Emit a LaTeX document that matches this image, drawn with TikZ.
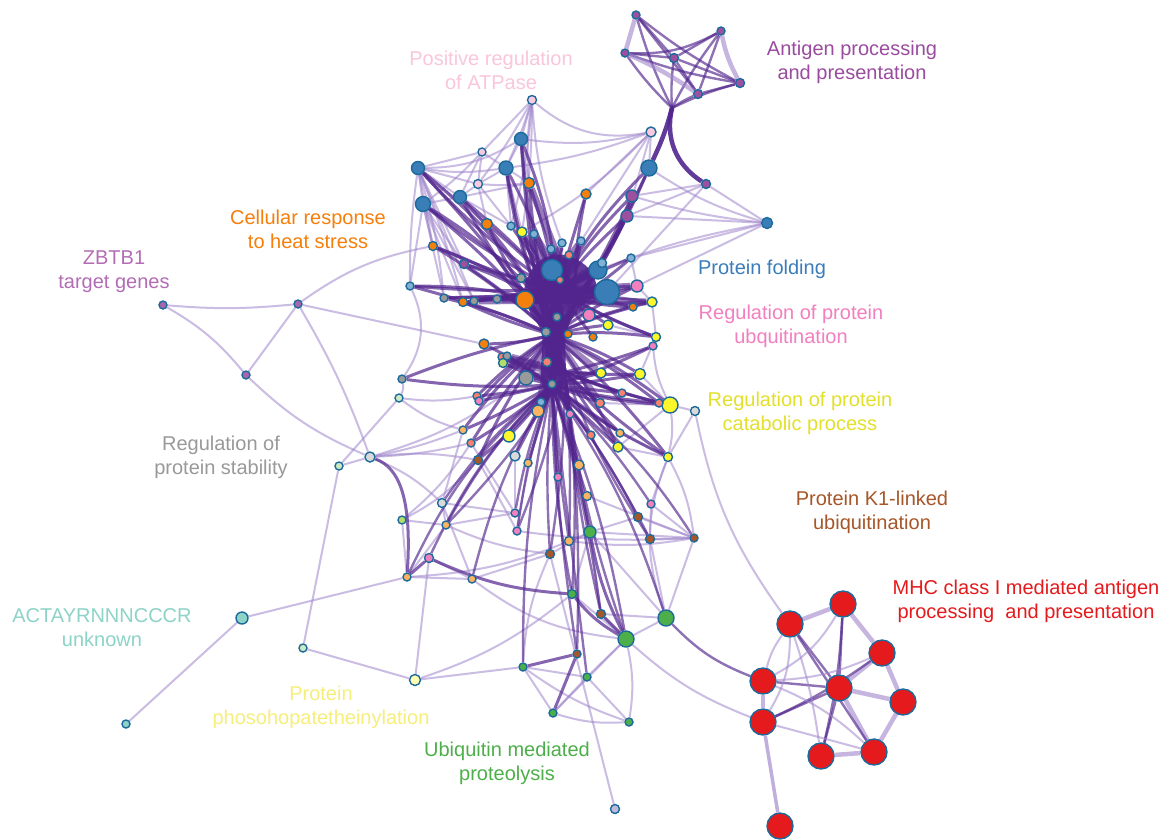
\documentclass[tikz,border=0pt]{standalone}
\usepackage{fontspec}
\setmainfont{Liberation Sans}
\pgfdeclarelayer{bgfill}
\pgfdeclarelayer{edges}
\pgfsetlayers{bgfill,edges,main}
\definecolor{cOut}{HTML}{1C6A9B}
\definecolor{cBlu}{HTML}{3A7EB7}
\definecolor{cOra}{HTML}{F57F0C}
\definecolor{cLpk}{HTML}{F9CADF}
\definecolor{cPur}{HTML}{9B519F}
\definecolor{cPnk}{HTML}{F280BE}
\definecolor{cYel}{HTML}{FBF72A}
\definecolor{cSal}{HTML}{F9806F}
\definecolor{cGry}{HTML}{9A9A9A}
\definecolor{cLbl}{HTML}{81B1D3}
\definecolor{cLgr}{HTML}{B3DE69}
\definecolor{cMnt}{HTML}{CCEBC5}
\definecolor{cLgy}{HTML}{D9D9D9}
\definecolor{cLor}{HTML}{FDB462}
\definecolor{cBrn}{HTML}{A65628}
\definecolor{cGrn}{HTML}{4DAF4A}
\definecolor{cRed}{HTML}{E41A1C}
\definecolor{cTea}{HTML}{8DD3C7}
\definecolor{cLye}{HTML}{FFFFB3}
\definecolor{cLav}{HTML}{BEBADA}
\definecolor{cZbt}{HTML}{A865AE}
\definecolor{cDk}{HTML}{52258E}
\definecolor{cLt}{HTML}{9F85CB}
% label colours
\definecolor{tAtp}{HTML}{F9C6DB}
\definecolor{tAnt}{HTML}{9A4C9F}
\definecolor{tHeat}{HTML}{F57F0A}
\definecolor{tZbt}{HTML}{B36DB5}
\definecolor{tFold}{HTML}{3A7DBA}
\definecolor{tUbq}{HTML}{F27FBF}
\definecolor{tCat}{HTML}{E3E02A}
\definecolor{tStab}{HTML}{999999}
\definecolor{tKone}{HTML}{A65628}
\definecolor{tMhc}{HTML}{E41A1C}
\definecolor{tAct}{HTML}{8DD3C7}
\definecolor{tPhos}{HTML}{F6EE7A}
\definecolor{tUbm}{HTML}{4DAF4A}
\begin{document}
\begin{tikzpicture}[x=1pt,y=-1pt,
  nd/.style={circle,draw=cOut,line width=1.4pt,inner sep=0pt},
  lt/.style={draw=cLt,line width=2pt,draw opacity=.55},
  ltw/.style={draw=cLt,line width=4.5pt,draw opacity=.6},
  md/.style={draw=cDk,line width=2.4pt,draw opacity=.65},
  dk/.style={draw=cDk,line width=3pt,draw opacity=.7},
  dkk/.style={draw=cDk,line width=4.5pt,draw opacity=.9},
  fat/.style={draw=cDk,line width=7pt,draw opacity=.85},
  lbl/.style={font=\fontsize{20}{24}\selectfont,align=center,inner sep=0pt}]
\useasboundingbox (0,0) rectangle (1172,839);
\begin{pgfonlayer}{bgfill}
\fill[white] (0,0) rectangle (1172,839);
\end{pgfonlayer}

% hubs of the bundled edges
\coordinate (hU) at (557,290);
\coordinate (hV) at (575,300);
\coordinate (hW) at (540,300);
\coordinate (hM) at (553,335);
\coordinate (hL) at (552,385);
\coordinate (hN) at (565,372);
\coordinate (aj) at (672,108);

% nodes: name/x/y/radius/colour
\foreach \n/\x/\y/\r/\c in {
 a1/636/15/4/cPur, a2/721/31/4/cPur, a3/625/53/4/cPur, a4/674/58/4.5/cPur,
 a5/740/83/4.5/cPur, a6/698/94/4.5/cPur, a7/706/184/4.5/cPur,
 p1/532/100/4.5/cLpk, p2/651/132/5/cLpk, p3/482/152/4/cLpk, p4/478/184/4.5/cLpk,
 b1/521/139/6.5/cBlu, b2/418/168/6.5/cBlu, b3/506/168/7/cBlu, b4/649/168/8/cBlu,
 b5/423/204/7.5/cBlu, b6/460/197/6.5/cBlu, b7/552/270/10.5/cBlu, b8/598/270/9/cBlu,
 b9/607/292/12.5/cBlu, b10/767/223/5.5/cBlu,
 o1/529/183/5.5/cOra, o2/586/194/5/cOra, o3/487/224/5.5/cOra, o4/433/246/4.5/cOra,
 o5/463/302/4.5/cOra, o6/525/300/9/cOra, o7/633/307/4/cOra, o8/568/334/4/cOra,
 o9/593/337/4/cOra, o10/484/344/5/cOra,
 u1/632/196/6/cPur, u2/627/216/6/cPur, u3/464/264/4.5/cPur,
 l1/511/226/4/cLbl, l2/534/234/4/cLbl, l3/562/243/4/cLbl, l4/581/241/4/cLbl,
 l5/551/249/4/cLbl, l6/631/258/4/cLbl, l7/602/263/4.5/cLbl, l8/410/286/4/cLbl,
 l9/541/402/4/cLbl,
 y1/522/232/5/cYel, y2/652/302/5/cYel, y3/608/325/5/cYel, y4/656/337/4.5/cYel,
 y5/601/373/5/cYel, y6/640/374/5.5/cYel, y7/670/405/8/cYel, y8/509/436/6/cYel,
 y9/618/447/5/cYel, y10/668/457/4.5/cYel,
 s1/569/255/4/cSal, s2/560/280/3.5/cSal, s3/502/357/4/cSal, s4/547/362/4.5/cSal,
 s5/477/396/4/cSal, s6/622/393/4/cSal, s7/600/403/4.5/cSal, s8/659/403/4/cSal,
 s9/471/443/4/cSal, s10/591/435/4/cSal,
 g1/521/278/4.5/cGry, g2/444/298/4/cGry, g3/474/301/4/cGry, g4/497/299/4/cGry,
 g5/557/317/4/cGry, g6/546/332/4.5/cGry, g7/507/356/4/cGry, g8/402/379/4/cGry,
 g9/526/378/7/cGry, g10/552/384/4/cGry,
 k1/637/286/6/cPnk, k2/589/315/6/cPnk, k3/653/346/4/cPnk, k4/479/401/4/cPnk,
 k5/570/414/4/cPnk, k6/558/477/4/cPnk, k7/651/504/4/cPnk, k8/515/513/4/cPnk,
 k9/517/531/4/cPnk, k10/429/558/4.5/cPnk,
 lg1/503/363/4.5/cLgr, lg2/402/520/4/cLgr,
 m1/399/398/4/cMnt, m2/339/466/4/cMnt, m3/303/648/4/cMnt,
 ly1/695/411/4.5/cLgy, ly2/515/456/5/cLgy, ly3/442/503/4.5/cLgy, ly4/370/457/5/cLgy,
 lo1/538/411/6/cLor, lo2/463/430/4/cLor, lo3/620/433/4/cLor, lo4/528/463/4/cLor,
 lo5/579/465/5/cLor, lo6/587/496/4.5/cLor, lo7/446/525/4/cLor, lo8/569/541/4.5/cLor,
 lo9/407/577/4/cLor, lo10/472/579/4/cLor,
 w1/478/460/4.5/cBrn, w2/638/517/4.5/cBrn, w3/650/539/4.5/cBrn, w4/694/538/4/cBrn,
 w5/550/554/4.5/cBrn, w6/601/614/4.5/cBrn, w7/577/654/4/cBrn,
 e1/590/532/6/cGrn, e2/572/594/4.5/cGrn, e3/666/618/8/cGrn, e4/626/639/8/cGrn,
 e5/523/667/4/cGrn, e6/587/677/4/cGrn, e7/553/713/4/cGrn, e8/629/722/4/cGrn,
 z1/163/305/4/cZbt, z2/298/304/4/cZbt, z3/246/375/4/cZbt,
 t1/242/618/6/cTea, t2/126/724/4/cTea,
 q1/415/680/5.5/cLye, v1/615/809/4.5/cLav,
 r1/790/624/13/cRed, r2/843/604/13/cRed, r3/882/653/13/cRed, r4/763/681/13/cRed,
 r5/839/688/13/cRed, r6/903/702/13/cRed, r7/763/722/13/cRed, r8/821/756/13/cRed,
 r9/874/752/13/cRed, r10/780/826/13/cRed}
 \node[nd,fill=\c,minimum size={2*\r*1pt}] (\n) at (\x,\y) {};

\begin{pgfonlayer}{edges}
% light web
\foreach \a/\b/\bd in {
 p1/p3/0, p1/b1/0, p1/b3/3, p1/p4/4, p1/l1/5, p1/y1/4, p1/o1/-6, p1/p2/-25, p1/l3/-8,
 p2/b3/6, p2/o2/0, p2/u2/0, p2/b1/10, p2/b4/0, p2/l4/0, p2/y1/8,
 p3/b2/0, p3/b3/0, p3/p4/0, p3/b5/5, p3/b6/0,
 p4/b2/0, p4/b6/0, p4/o1/-5, p4/b3/0, p4/o3/0, p4/l1/0,
 b10/u1/5, b10/u2/0, b10/b8/-5, b10/k1/0, b10/l6/0, a7/b10/0, a7/u1/0, a7/u2/0, a7/b9/0, b10/b4/8,
 b2/b5/0, b2/b6/0, b2/g2/5, b2/o4/0, b2/u3/0, b2/l8/-4, b2/o5/3, b2/g3/0, b2/o3/0, b2/b1/-15, b2/b3/-8,
 b5/g2/0, b5/u3/0, b5/o4/0, b5/b6/0, b5/l8/0, b5/o5/0, b5/g3/0,
 b3/b1/0, b3/o1/0, b3/l1/0, b3/y1/0, b1/o1/0, b6/o3/0, b6/l1/0, b6/o1/0,
 z1/z2/-5, z1/z3/10, z3/z2/0, z2/o4/12, z2/o10/0, z2/ly4/5, z3/ly4/-10,
 ly4/m2/0, m2/m1/0, ly4/lo2/-5, ly4/s9/-5, ly4/w1/8, ly4/ly3/10, ly4/g9/-10, m1/lo2/-10, m1/s5/-8,
 m2/m3/0, m3/q1/0, q1/k10/0, q1/e5/0, q1/e2/-10, t1/lo9/0, t1/t2/0, lo9/lo10/0,
 lg2/w1/-10, lg2/s9/-8, lg2/lo7/0, l8/g8/30, g8/m1/20,
 ly1/r1/-12, y7/ly1/0, y10/ly1/0, y7/y10/10, v1/w5/0,
 e3/e4/0, e3/w6/0, e3/w3/0, e3/w4/0, e3/e1/0, e3/y10/20, e4/w6/0, e4/e2/0, e4/e6/0, e4/e8/10,
 e5/e7/0, e5/e8/-8, e5/e6/0, e7/e6/0, e7/e8/-10, e6/e8/0, e7/e4/0, w6/e1/0, e2/e1/0, w5/e1/0, w5/e5/-10,
 w4/lo6/0, w4/w3/0, w4/w2/0, w4/k7/0, w4/e1/0, w4/lo8/8, w4/y10/-10, w4/k9/5,
 k10/lo10/0, lo9/lo7/0, lo7/ly3/0, ly3/k8/0, lo10/w5/0, lo7/w5/-8, lo9/e1/-10, lo10/e4/-15,
 s7/y7/0, s8/y7/0, y6/y7/0, y2/y4/0, k1/y2/0, y3/y4/0, y9/y10/0, lo3/y10/0, s6/y7/0,
 l6/k1/0, o7/y2/0, k3/y4/0, k3/y7/-10, y4/y6/0, y9/y7/0, k7/y10/0, k7/w3/0, w2/e1/0,
 lo2/ly3/0, s9/k8/0, w1/k9/0, ly2/k8/0, lo4/k9/0, lo7/k8/0, ly3/lo10/0, lg2/lo9/0}
 \draw[lt] (\a) to[bend left=\bd] (\b);

% dense core where the bundles merge
\fill[cDk,opacity=.9] plot[smooth cycle,tension=.6] coordinates {
 (538,262) (565,255) (590,270) (596,294) (578,310) (566,335) (565,380)
 (552,396) (541,380) (542,335) (530,312) (524,290)};

% bundles into the upper hub
\foreach \a/\bd in {
 b1/8, b2/-6, b3/5, b4/-8, b5/-5, b6/4, b7/0, b8/0, b9/0, o1/4, o2/0, o3/3, o4/-4,
 o5/0, o6/0, o7/0, u1/-6, u2/-4, u3/0, l1/0, l2/0, l3/0, l4/0, l5/0, l6/0, l7/0,
 l8/-3, y1/0, y2/0, y3/0, y4/5, s1/0, s2/0, g1/0, g2/-3, g3/0, g4/0, g5/0, g6/0,
 k1/0, k2/0, o8/0, o9/0}
 \draw[dk] (\a) to[bend left=\bd] (hU);
\foreach \a/\bd in {b1/-4, b2/4, b3/-5, b4/5, b5/6, b6/-4, b7/5, b9/-6, o6/6, o3/-5, u1/5, u2/6, y2/-6, k1/-5, o4/5,
 l8/4, g2/5, o5/-4, u3/4, y1/4, o1/-4, y4/-6, o7/-4, y3/-4}
 \draw[dk] (\a) to[bend left=\bd] (hM);
\foreach \a/\bd in {b2/8, b5/8, b6/6, o4/6, u3/6, l8/6, g2/4, g3/4, o5/4, y1/6, b3/-6, b1/-3}
 \draw[dk] (\a) to[bend left=\bd] (hW);
\foreach \a/\bd in {b4/6, u1/8, u2/6, b8/4, l6/4, k1/4, y2/4, o7/4, l4/-6, o2/-6, y4/4}
 \draw[dk] (\a) to[bend left=\bd] (hV);
% heavy strands next to the core
\foreach \a/\h in {b7/hW, b7/hV, b8/hU, b8/hW, b9/hU, b9/hW, o6/hU, o6/hV, g1/hV, s1/hW,
 l5/hV, l7/hW, l3/hW, l4/hW, k2/hW, g5/hW, g4/hV, l2/hV, y1/hV, o1/hV, k1/hU, y2/hW, g3/hV}
 \draw[fat,draw opacity=.6] (\a) -- (\h);

% trunk between the hubs
\foreach \bd in {-14,-8,-3,3,8,14}
 \draw[dkk] (hU) to[bend left=\bd] (hL);
\draw[dkk] (hW) to[bend left=6] (hL);
\draw[dkk] (hV) to[bend right=6] (hL);
\draw[dkk] (hW) -- (hV);
\draw[dkk] (hU) -- (hM) -- (hN);

% bundles into the lower hub
\foreach \a/\bd in {
 g7/0, g8/-5, g9/0, g10/0, o10/4, s3/0, s4/0, s5/-3, s6/0, s7/0, s8/4, s9/-4, s10/0,
 k3/5, k4/0, k5/0, y5/0, y6/3, y7/6, y8/-3, y9/0, y10/6, lg1/0, l9/0, lo1/0, lo2/-4,
 lo3/0, lo4/0, lo5/0, w1/-5, ly2/0, k6/0}
 \draw[dk] (\a) to[bend left=\bd] (hL);
\foreach \a/\bd in {g8/5, o10/-6, y7/-6, s8/-5, y6/-6, y10/-5, w1/6, s9/5, k4/6, s5/6, lo2/6, y9/-4}
 \draw[dk] (\a) to[bend left=\bd] (hM);
\foreach \a/\bd in {y7/4, s8/3, y6/3, s6/3, s7/3, y5/2, k3/3, y9/4, y10/4, lo3/3}
 \draw[dk] (\a) to[bend left=\bd] (hN);
\foreach \a/\h in {g9/hM, g9/hN, s4/hN, lg1/hN, lo1/hM, l9/hN, y5/hM, s7/hM, g10/hM, k5/hM, s3/hN, g7/hN}
 \draw[fat,draw opacity=.55] (\a) -- (\h);

% bundles running down from the lower hub
\foreach \a/\bd in {
 lo6/0, e1/-3, w5/4, e2/5, w6/-4, e4/-6, e3/-8, k8/6, k9/5, lo8/2, w7/3, k7/-6,
 w2/-5, w3/-5, w4/-10, lo7/8, lo9/12, k10/10, lo10/8, ly3/8, e6/0, e5/6}
 \draw[md] (\a) to[bend left=\bd] (hL);
\foreach \a/\bd in {e1/3, w5/-4, e2/-5, w6/4, e4/6, k9/-5, lo8/-3, w7/-4, w3/6, lo7/-6}
 \draw[md] (\a) to[bend left=\bd] (hN);
\foreach \a/\b/\bd in {e5/w7/0, w7/e7/0, k10/e2/-10, lo9/k10/0, e1/e4/-8, w6/e4/0, e2/e4/-10}
 \draw[dk] (\a) to[bend left=\bd] (\b);
\draw[dk] (ly4) .. controls (400,468) and (412,500) .. (lo9);

% antigen processing cluster
\draw[dkk] (b4) to[bend right=5] (aj);
\draw[dkk] (aj) to[bend right=35] (a7);
\foreach \a in {a1,a3,a4,a5,a6,a2}
 \draw[md] (aj) to[bend left=5] (\a);
\foreach \a/\b/\bd in {a1/a4/0, a1/a5/-5, a3/a4/0, a3/a2/-15, a3/a5/-5, a4/a2/0, a4/a6/0,
 a2/a6/0, a6/a5/0, a4/a5/0, a1/a6/0}
 \draw[md] (\a) to[bend left=\bd] (\b);
\foreach \a/\b/\bd in {a1/a3/0, a2/a5/-8, a3/a6/5}
 \draw[ltw] (\a) to[bend left=\bd] (\b);

% MHC class I cluster
\draw[md] (e3) to[bend right=12] (r4);
\draw[lt] (e4) to[bend right=10] (r7);
\draw[md,draw=cLt,line width=3.5pt] (r7) -- (r10);
\foreach \a/\b in {r1/r2, r2/r3, r3/r6, r6/r9, r9/r8, r4/r7, r5/r9, r5/r6, r3/r5}
 \draw[ltw] (\a) -- (\b);
\foreach \a/\b/\bd in {r1/r5/0, r1/r9/0, r2/r8/5, r2/r5/0, r4/r5/0, r7/r5/0, r5/r8/0, r7/r3/-5}
 \draw[md] (\a) to[bend left=\bd] (\b);
\foreach \a/\b/\bd in {r4/r3/-10, r4/r2/-15, r1/r4/-10, r1/r7/15, r7/r9/0, r4/r9/10, r1/r8/5}
 \draw[lt] (\a) to[bend left=\bd] (\b);
\end{pgfonlayer}

% cluster labels
\node[lbl,text=tAtp]  (labA) at (491,70)  {Positive regulation\\of ATPase};
\node[lbl,text=tAnt]  (labB) at (852,62)  {Antigen processing\\and presentation};
\node[lbl,text=tHeat] (labC) at (308,229) {Cellular response\\to heat stress};
\node[lbl,text=tZbt]  (labD) at (114,272) {ZBTB1\\target genes};
\node[lbl,text=tFold] (labE) at (762,269) {Protein folding};
\node[lbl,text=tUbq]  (labF) at (791,326) {Regulation of protein\\ubquitination};
\node[lbl,text=tCat]  (labG) at (800,413) {Regulation of protein\\catabolic process};
\node[lbl,text=tStab] (labH) at (221,457) {Regulation of\\protein stability};
\node[lbl,text=tKone] (labI) at (872,512) {Protein K1-linked\\ubiquitination};
\node[lbl,text=tMhc]  (labJ) at (1026,601) {MHC class I mediated antigen\\processing\ \ and presentation};
\node[lbl,text=tAct]  (labK) at (102,628) {ACTAYRNNNCCCR\\unknown};
\node[lbl,text=tPhos] (labL) at (321,707) {Protein\\phosohopatetheinylation};
\node[lbl,text=tUbm]  (labM) at (507,763) {Ubiquitin mediated\\proteolysis};
\end{tikzpicture}
\end{document}
